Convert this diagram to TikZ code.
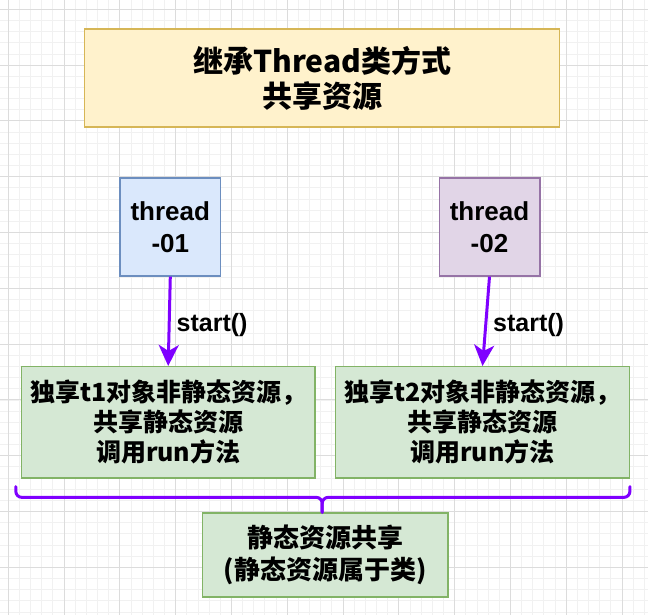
\documentclass[tikz,border=0pt]{standalone}
\usepackage{fontspec}
\newfontfamily\cjk{Noto Sans CJK SC}
\newfontfamily\latinb{Liberation Sans}
\usetikzlibrary{arrows.meta,calc}
\definecolor{titlefill}{HTML}{FFF2CC}
\definecolor{titleline}{HTML}{D6B656}
\definecolor{bluefill}{HTML}{DAE8FC}
\definecolor{blueline}{HTML}{6C8EBF}
\definecolor{purplefill}{HTML}{E1D5E7}
\definecolor{purpleline}{HTML}{9673A6}
\definecolor{greenfill}{HTML}{D5E8D4}
\definecolor{greenline}{HTML}{82B366}
\definecolor{callviolet}{HTML}{7F00FF}
\definecolor{gridmajor}{HTML}{DCDCDC}
\definecolor{gridminor}{HTML}{F1F1F1}
\tikzset{
  minorline/.style={gridminor, line width=0.8pt},
  majorline/.style={gridmajor, line width=1pt},
  basebox/.style={draw, line width=1.3pt, inner sep=0pt, align=center},
  titlebox/.style={basebox, draw=titleline, fill=titlefill, font=\cjk\bfseries\fontsize{30}{35}\selectfont},
  threadbox/.style={basebox, minimum width=100.7, minimum height=98, font=\latinb\bfseries\fontsize{26}{32}\selectfont},
  greenbox/.style={basebox, draw=greenline, fill=greenfill, font=\cjk\bfseries\fontsize{25}{30}\selectfont},
  sharedbox/.style={greenbox, font=\cjk\bfseries\fontsize{26}{32}\selectfont},
  startarrow/.style={callviolet, line width=3pt, -{Stealth[length=21pt, width=20pt, inset=6pt]}},
  startlabel/.style={right=6pt, inner sep=0pt, text=black, font=\latinb\bfseries\fontsize{25}{30}\selectfont},
  bracket/.style={callviolet, line width=3pt, rounded corners=6pt, line cap=round}
}

\begin{document}
\begin{tikzpicture}[x=1pt,y=1pt]
  \useasboundingbox (0,0) rectangle (648,-615);
  \fill[white] (0,0) rectangle (648,-615);
  \foreach \k in {0,...,57} \draw[minorline] ({8.2+11.16*\k},0) -- ++(0,-615);
  \foreach \k in {0,...,54} \draw[minorline] (0,{-9.3-11.16*\k}) -- ++(648,0);
  \foreach \k in {0,5,...,55} \draw[majorline] ({8.2+11.16*\k},0) -- ++(0,-615);
  \foreach \k in {0,5,...,50} \draw[majorline] (0,{-9.3-11.16*\k}) -- ++(648,0);

  \node[titlebox, minimum width=475, minimum height=98] (title) at (322.3,-78) {继承Thread类方式\\共享资源};
  \node[threadbox, draw=blueline, fill=bluefill] (t1) at (170.3,-227) {thread\\-01};
  \node[threadbox, draw=purpleline, fill=purplefill] (t2) at (489.5,-227) {thread\\-02};
  \node[greenbox, minimum width=293.5, minimum height=111.3] (own1) at (168.2,-422.3) {独享t1对象非静态资源，\\共享静态资源\\调用run方法};
  \node[greenbox, minimum width=293.5, minimum height=111.3] (own2) at (482.5,-422.3) {独享t2对象非静态资源，\\共享静态资源\\调用run方法};
  \node[sharedbox, minimum width=245.5, minimum height=84] (shared) at (325.2,-555) {静态资源共享\\(静态资源属于类)};

  \draw[startarrow] (t1.south) -- (own1.north) node[startlabel, pos=0.54] {start()};
  \draw[startarrow] (t2.south) -- (own2.north) node[startlabel, pos=0.54] {start()};

  \coordinate (bl) at ($(own1.south west)+(-5,-8)$);
  \coordinate (br) at ($(own2.south east)+(0,-8)$);
  \coordinate (tip) at ($(shared.north)+(-3,0)$);
  \coordinate (bm) at ($(tip)+(0,15)$);
  \draw[bracket] (bl) |- (bm) -- (tip);
  \draw[bracket] (br) |- (bm) -- (tip);
\end{tikzpicture}
\end{document}
